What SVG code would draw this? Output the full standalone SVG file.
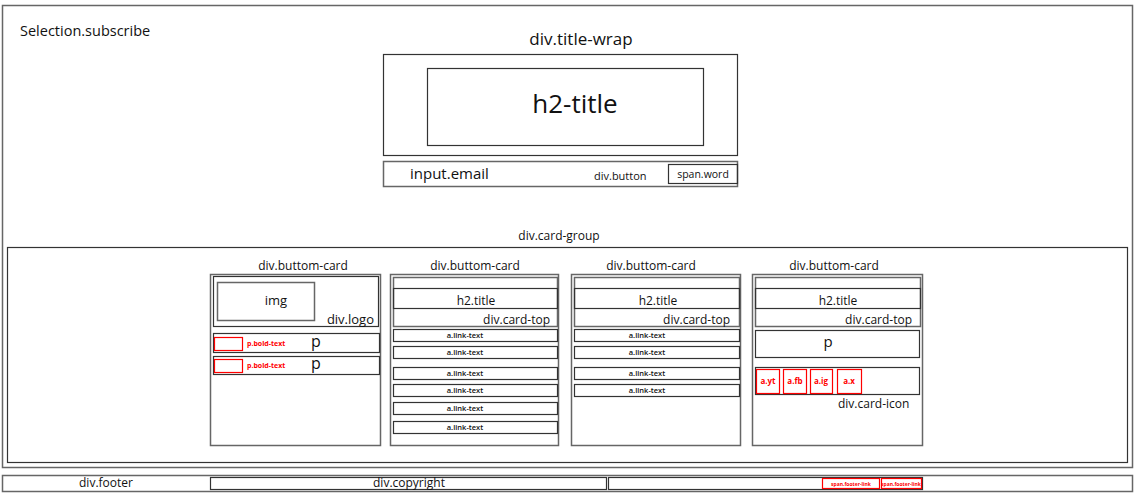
<svg xmlns="http://www.w3.org/2000/svg" width="1138" height="495" viewBox="0 0 1138 495">
  <style>
    text { font-family: "Open Sans", "Noto Sans", "Liberation Sans", sans-serif; fill: #111; }
    .box { fill: none; stroke: #333; stroke-width: 1.2; }
    .gbox { fill: none; stroke: #666; stroke-width: 1.5; }
    .red { fill: none; stroke: #f00; stroke-width: 1.2; }
    .rt { fill: #f00; font-weight: bold; }
    .mid { text-anchor: middle; }
    .end { text-anchor: end; }
    .lnk { font-size: 7.5px; font-weight: 600; text-anchor: middle; }
    .card { font-size: 12px; text-anchor: middle; }
  </style>
  <rect width="1138" height="495" fill="#fff"/>

  <!-- section.subscribe -->
  <g id="section-subscribe">
    <rect class="gbox" x="2.5" y="5.5" width="1130" height="462"/>
    <text x="20" y="36" font-size="14.5">Selection.subscribe</text>
  </g>

  <g id="title-wrap">
    <text class="mid" x="581" y="45" font-size="17">div.title-wrap</text>
    <rect class="box" x="383.5" y="54.5" width="354" height="101"/>
  </g>
  <g id="h2-title">
    <rect class="box" x="427.5" y="68.5" width="276" height="77"/>
    <text class="mid" x="575" y="113" font-size="26">h2-title</text>
  </g>
  <g id="input-row">
    <rect class="gbox" x="383.5" y="161.5" width="354" height="25"/>
    <text x="410" y="179" font-size="15">input.email</text>
    <text x="594" y="180" font-size="11">div.button</text>
  </g>
  <g id="span-word">
    <rect class="box" x="668.5" y="164.5" width="69" height="19"/>
    <text class="mid" x="703" y="177.5" font-size="10.5">span.word</text>
  </g>

  <!-- card group -->
  <g id="card-group">
    <text class="mid" x="559" y="240" font-size="12">div.card-group</text>
    <rect class="box" x="7.5" y="247.5" width="1120" height="215"/>
  </g>

  <!-- card 1 -->
  <g id="card-1">
    <text class="card" x="303" y="270">div.buttom-card</text>
    <rect class="gbox" x="210.5" y="274.5" width="170" height="171"/>
    <rect class="box" x="213.5" y="276.5" width="165" height="50"/>
    <rect class="gbox" x="217.5" y="282.5" width="97" height="38"/>
    <text class="mid" x="276" y="305" font-size="13">img</text>
    <text class="end" x="374" y="324" font-size="13">div.logo</text>
    <rect class="box" x="213.5" y="333.5" width="166" height="19"/>
    <rect class="red" x="214.5" y="337.5" width="28" height="13"/>
    <text class="rt" x="247" y="346" font-size="7">p.bold-text</text>
    <text x="311" y="347" font-size="16">p</text>
    <rect class="box" x="213.5" y="356.5" width="166" height="18"/>
    <rect class="red" x="214.5" y="359.5" width="28" height="13"/>
    <text class="rt" x="247" y="368" font-size="7">p.bold-text</text>
    <text x="311" y="369" font-size="16">p</text>
  </g>

  <!-- card 2 -->
  <g id="card-2">
    <text class="card" x="475" y="270">div.buttom-card</text>
    <rect class="gbox" x="390.5" y="274.5" width="168" height="171"/>
    <rect class="gbox" x="393.5" y="277.5" width="164" height="49"/>
    <rect class="box" x="393.5" y="288.5" width="164" height="20"/>
    <text class="card" x="476" y="305">h2.title</text>
    <text class="end" x="550" y="324" font-size="12">div.card-top</text>
    <rect class="box" x="393.5" y="329.5" width="164" height="12"/>
    <text class="lnk" x="465" y="338">a.link-text</text>
    <rect class="box" x="393.5" y="346.5" width="164" height="12"/>
    <text class="lnk" x="465" y="355">a.link-text</text>
    <rect class="box" x="393.5" y="367.5" width="164" height="12"/>
    <text class="lnk" x="465" y="376">a.link-text</text>
    <rect class="box" x="393.5" y="384.5" width="164" height="12"/>
    <text class="lnk" x="465" y="393">a.link-text</text>
    <rect class="box" x="393.5" y="402.5" width="164" height="12"/>
    <text class="lnk" x="465" y="411">a.link-text</text>
    <rect class="box" x="393.5" y="421.5" width="164" height="12"/>
    <text class="lnk" x="465" y="430">a.link-text</text>
  </g>

  <!-- card 3 -->
  <g id="card-3">
    <text class="card" x="651" y="270">div.buttom-card</text>
    <rect class="gbox" x="571.5" y="274.5" width="169" height="171"/>
    <rect class="gbox" x="574.5" y="277.5" width="165" height="49"/>
    <rect class="box" x="574.5" y="288.5" width="165" height="20"/>
    <text class="card" x="658" y="305">h2.title</text>
    <text class="end" x="730" y="324" font-size="12">div.card-top</text>
    <rect class="box" x="574.5" y="329.5" width="165" height="12"/>
    <text class="lnk" x="647" y="338">a.link-text</text>
    <rect class="box" x="574.5" y="346.5" width="165" height="12"/>
    <text class="lnk" x="647" y="355">a.link-text</text>
    <rect class="box" x="574.5" y="367.5" width="165" height="12"/>
    <text class="lnk" x="647" y="376">a.link-text</text>
    <rect class="box" x="574.5" y="384.5" width="165" height="12"/>
    <text class="lnk" x="647" y="393">a.link-text</text>
  </g>

  <!-- card 4 -->
  <g id="card-4">
    <text class="card" x="834" y="270">div.buttom-card</text>
    <rect class="gbox" x="752.5" y="274.5" width="170" height="171"/>
    <rect class="gbox" x="755.5" y="277.5" width="165" height="49"/>
    <rect class="box" x="755.5" y="288.5" width="165" height="20"/>
    <text class="card" x="838" y="305">h2.title</text>
    <text class="end" x="912" y="324" font-size="12">div.card-top</text>
    <rect class="box" x="755.5" y="330.5" width="164" height="27"/>
    <text class="mid" x="828" y="347" font-size="15">p</text>
    <rect class="box" x="755.5" y="367.5" width="164" height="27"/>
    <rect class="red" x="756.5" y="369.5" width="23" height="24"/>
    <text class="rt mid" x="768" y="384" font-size="8">a.yt</text>
    <rect class="red" x="783.5" y="369.5" width="23" height="24"/>
    <text class="rt mid" x="795" y="384" font-size="8">a.fb</text>
    <rect class="red" x="810.5" y="369.5" width="22" height="24"/>
    <text class="rt mid" x="821" y="384" font-size="8">a.ig</text>
    <rect class="red" x="837.5" y="369.5" width="24" height="24"/>
    <text class="rt mid" x="849" y="384" font-size="8">a.x</text>
    <text x="838" y="408" font-size="12">div.card-icon</text>
  </g>

  <!-- footer -->
  <g id="footer">
    <rect class="gbox" x="2.5" y="475.5" width="1130" height="16"/>
    <text class="mid" x="106" y="487" font-size="12">div.footer</text>
  </g>
  <g id="copyright">
    <rect class="box" x="210.5" y="477.5" width="396" height="12"/>
    <text class="mid" x="409" y="487" font-size="12">div.copyright</text>
  </g>
  <g id="footer-links">
    <rect class="box" x="608.5" y="477.5" width="314" height="12"/>
    <rect class="red" x="822.5" y="478.5" width="57" height="10"/>
    <text class="rt mid" x="851" y="485.5" font-size="5">span.footer-link</text>
    <rect class="red" x="881.5" y="478.5" width="40" height="10"/>
    <text class="rt mid" x="901" y="485.5" font-size="5">span.footer-link</text>
  </g>
</svg>
